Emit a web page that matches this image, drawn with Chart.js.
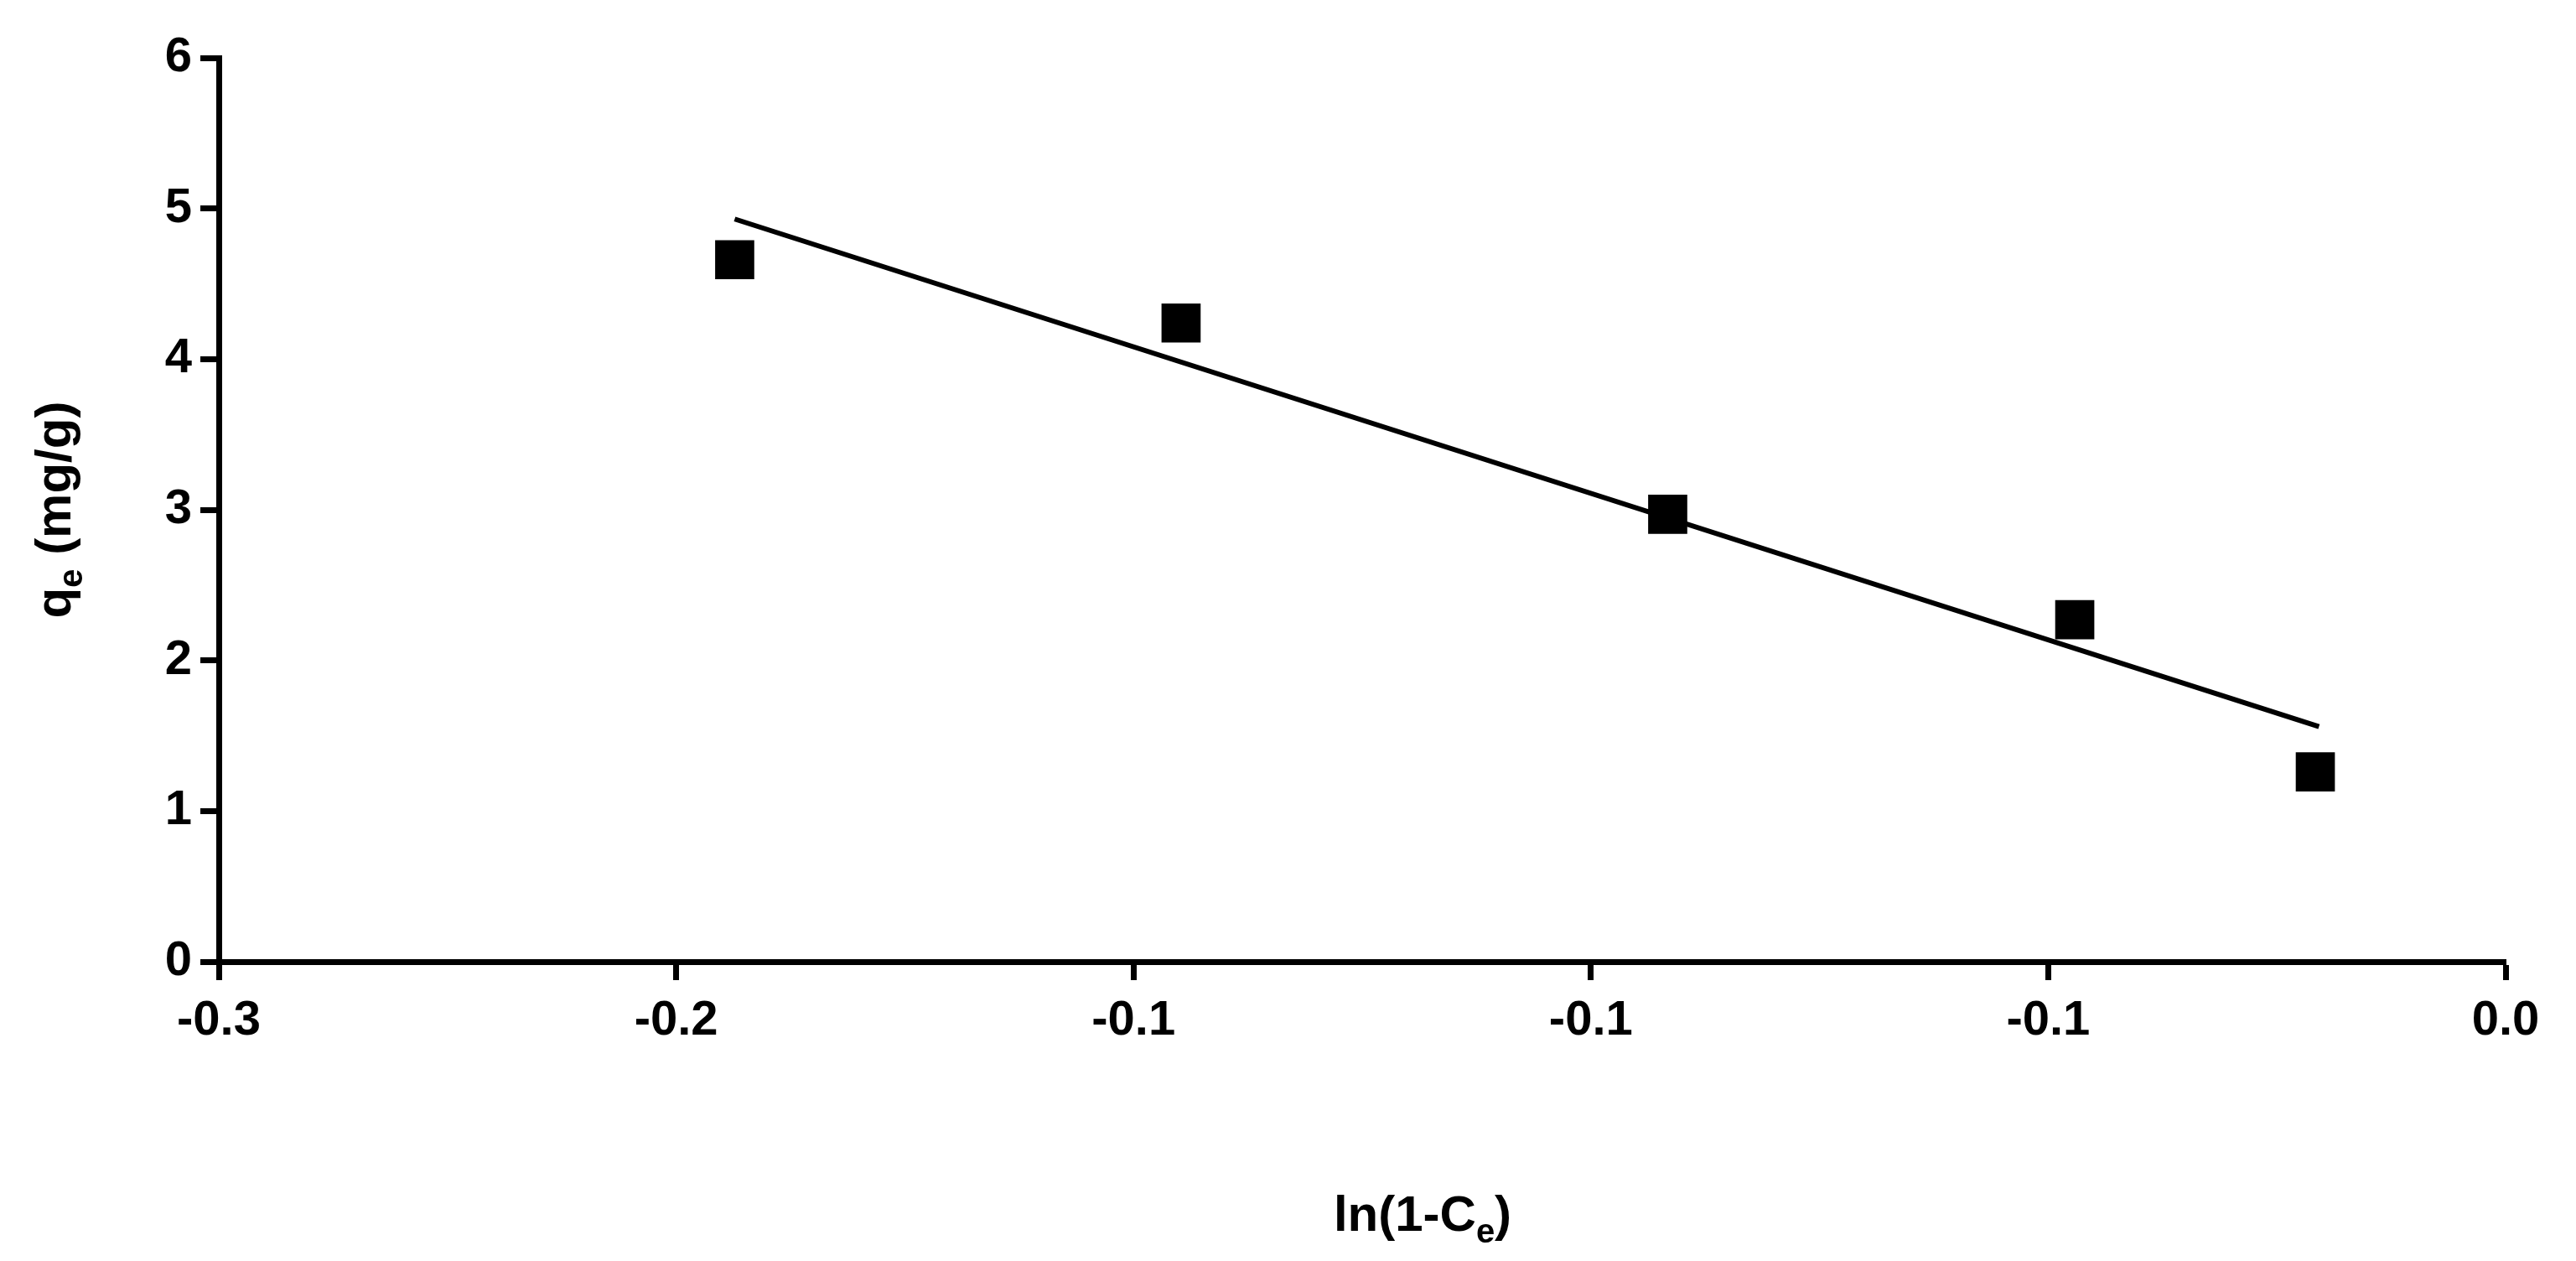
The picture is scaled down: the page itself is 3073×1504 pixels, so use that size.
<!DOCTYPE html>
<html>
<head>
<meta charset="utf-8">
<script src="https://cdn.jsdelivr.net/npm/chart.js@4"></script>
<style>
  html, body { margin: 0; padding: 0; background: #fff; }
  #wrap { width: 3073px; height: 1504px; }
</style>
</head>
<body>
<div id="wrap"><canvas id="grafico"></canvas></div>
<script>
// Datos
const puntosX = [-0.1936, -0.1448, -0.0916, -0.0471, -0.0208];
const puntosY = [4.66, 4.24, 2.97, 2.27, 1.26];
const lineaX = [-0.1936, -0.0204];
const lineaY = [4.93, 1.56];

const FUENTE = "'Liberation Sans', Arial, sans-serif";

// Títulos de ejes con subíndice
const titulosEjes = {
  id: "titulosEjes",
  afterDraw(chart) {
    const ctx = chart.ctx;
    ctx.save();
    ctx.fillStyle = "#000";
    ctx.textBaseline = "alphabetic";
    const grande = "bold 60px " + FUENTE;
    const chico = "bold 40px " + FUENTE;

    // eje x: ln(1-Ce)
    const partesX = [["ln(1-C", grande, 0], ["e", chico, 14], [")", grande, 0]];
    let ancho = 0;
    partesX.forEach((p) => { ctx.font = p[1]; ancho += ctx.measureText(p[0]).width; });
    let x = 1697 - ancho / 2;
    partesX.forEach((p) => {
      ctx.font = p[1];
      ctx.fillText(p[0], x, 1468 + p[2]);
      x += ctx.measureText(p[0]).width;
    });

    // eje y: qe (mg/g)
    ctx.translate(84, 608);
    ctx.rotate(-Math.PI / 2);
    const partesY = [["q", grande, 0], ["e", chico, 14], [" (mg/g)", grande, 0]];
    ancho = 0;
    partesY.forEach((p) => { ctx.font = p[1]; ancho += ctx.measureText(p[0]).width; });
    x = -ancho / 2;
    partesY.forEach((p) => {
      ctx.font = p[1];
      ctx.fillText(p[0], x, p[2]);
      x += ctx.measureText(p[0]).width;
    });
    ctx.restore();
  },
};

Chart.defaults.font.family = FUENTE;
Chart.defaults.font.weight = "bold";
Chart.defaults.color = "#000";

new Chart(document.getElementById("grafico").getContext("2d"), {
  type: "scatter",
  data: {
    datasets: [
      {
        label: "Datos",
        data: puntosX.map((v, i) => ({ x: v, y: puntosY[i] })),
        pointStyle: "rect",
        pointRadius: 33,
        backgroundColor: "#000",
        borderColor: "#000",
        borderWidth: 0,
      },
      {
        label: "Ajuste",
        type: "line",
        data: lineaX.map((v, i) => ({ x: v, y: lineaY[i] })),
        borderColor: "#000",
        borderWidth: 6,
        pointRadius: 0,
        fill: false,
      },
    ],
  },
  options: {
    responsive: true,
    maintainAspectRatio: false,
    animation: false,
    layout: { padding: { top: 69, right: 84, left: 0, bottom: 0 } },
    plugins: { legend: { display: false }, tooltip: { enabled: false } },
    scales: {
      x: {
        type: "linear",
        min: -0.25,
        max: 0,
        afterFit: (s) => { s.height = 357; },
        afterBuildTicks: (s) => {
          s.ticks = [-0.25, -0.2, -0.15, -0.1, -0.05, 0].map((v) => ({ value: v }));
        },
        ticks: {
          font: { size: 58, weight: "bold" },
          padding: 14,
          maxRotation: 0,
          callback: (v) => Number(v).toFixed(1),
        },
        grid: { drawOnChartArea: false, drawTicks: true, tickLength: 22, tickWidth: 7, color: "#000" },
        border: { color: "#000", width: 7 },
      },
      y: {
        min: 0,
        max: 6,
        afterFit: (s) => { s.width = 261; },
        ticks: { stepSize: 1, font: { size: 58, weight: "bold" }, padding: 10 },
        grid: { drawOnChartArea: false, drawTicks: true, tickLength: 22, tickWidth: 7, color: "#000" },
        border: { color: "#000", width: 7 },
      },
    },
  },
  plugins: [titulosEjes],
});
</script>
</body>
</html>
